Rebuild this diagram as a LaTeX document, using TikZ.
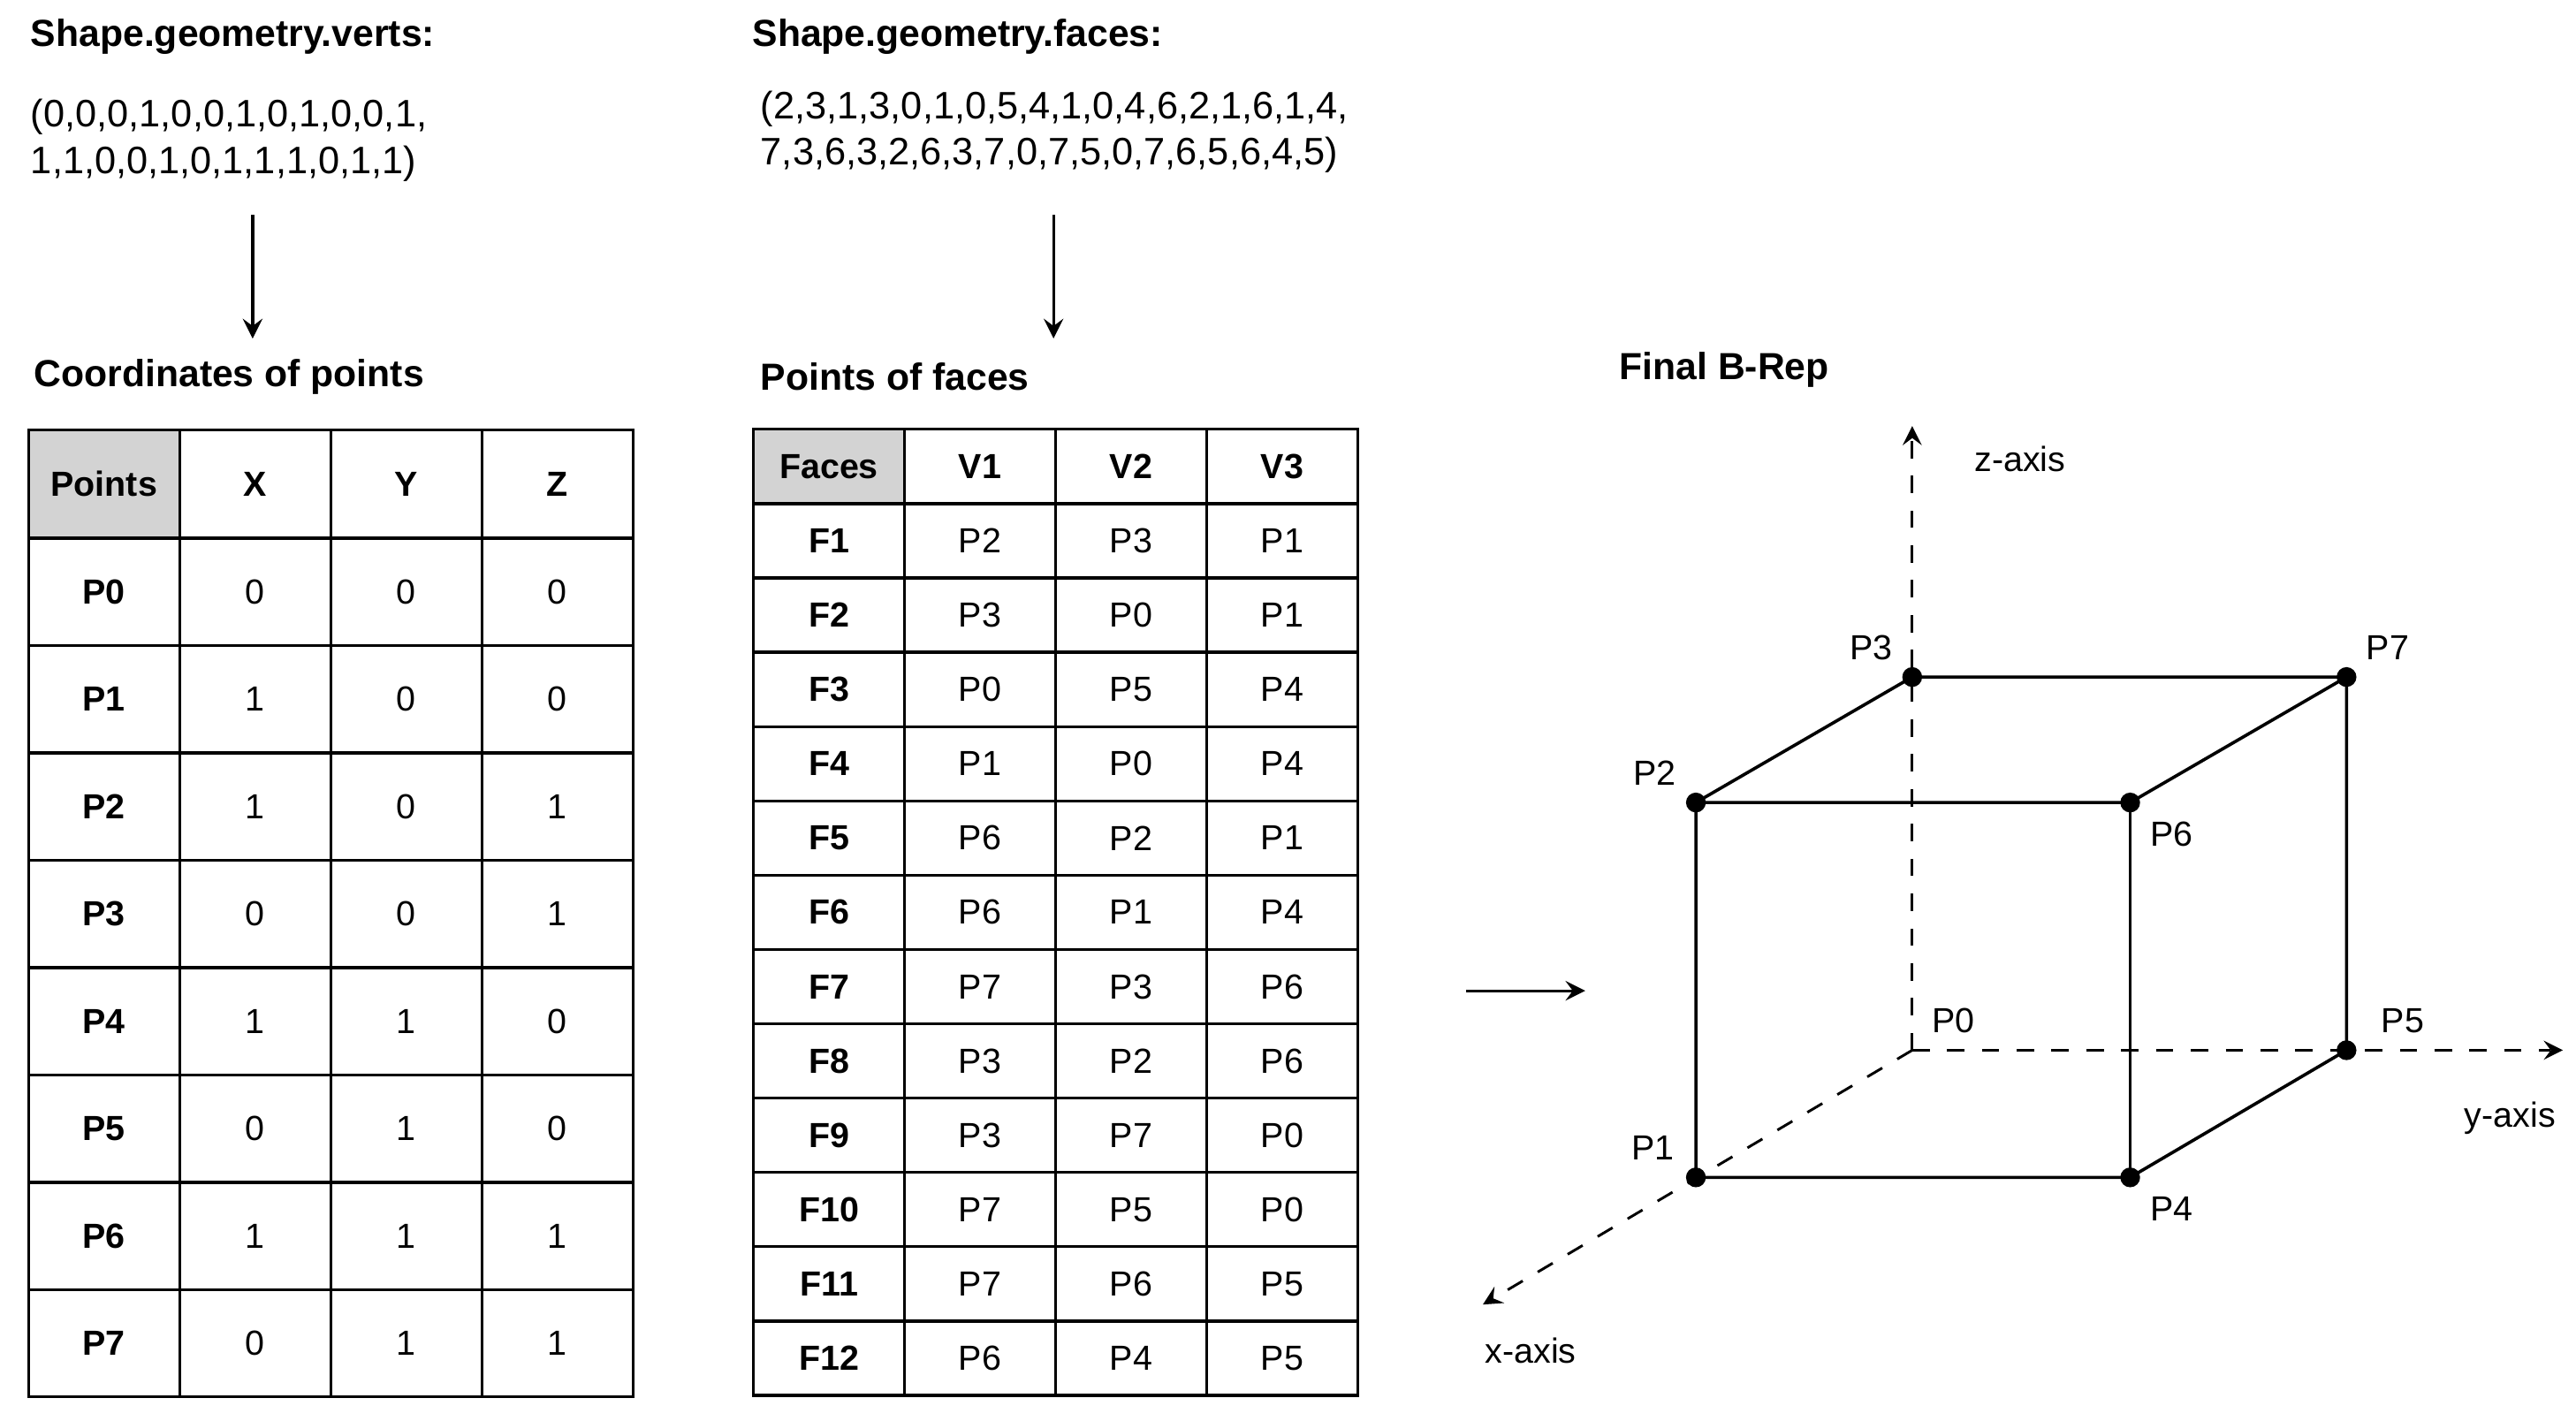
\documentclass[tikz,border=0pt]{standalone}
\usepackage{fontspec}
\setmainfont{Liberation Sans}
\usetikzlibrary{positioning}
\definecolor{headgray}{HTML}{D3D3D3}
\begin{document}
\begin{tikzpicture}[
        every node/.style={font=\fontsize{6.6}{8}\selectfont},
        title/.style={font=\fontsize{6.5}{8}\selectfont\bfseries, anchor=west, inner sep=0pt},
        data/.style={anchor=west, inner sep=0pt, align=left},
        cellA/.style={rectangle, draw, line width=0.5pt, minimum width=0.915cm, minimum height=0.65cm, inner sep=0pt, font=\fontsize{6}{7}\selectfont},
        cellB/.style={rectangle, draw, line width=0.5pt, minimum width=0.915cm, minimum height=0.45cm, inner sep=0pt, font=\fontsize{6}{7}\selectfont},
        line/.style={->, >=stealth, line width=0.5pt},
        axis/.style={->, >=stealth, dashed, line width=0.45pt},
        edge/.style={line width=0.55pt},
        pt/.style={circle, fill, inner sep=0pt, minimum size=0.12cm},
        ptlabel/.style={font=\fontsize{6}{7}\selectfont, inner sep=0pt}
    ]
        \useasboundingbox (0,0) rectangle (15.6,8.6);

        % Input data
        \node[title] (vertstitle) at (0.18,8.38) {Shape.geometry.verts:};
        \node[data] (verts) at (0.18,7.75) {(0,0,0,1,0,0,1,0,1,0,0,1,\\1,1,0,0,1,0,1,1,1,0,1,1)};
        \node[title] (facestitle) at (4.55,8.38) {Shape.geometry.faces:};
        \node[data] (faces) at (4.6,7.8) {(2,3,1,3,0,1,0,5,4,1,0,4,6,2,1,6,1,4,\\7,3,6,3,2,6,3,7,0,7,5,0,7,6,5,6,4,5)};

        % Table titles
        \node[title] (coordtitle) at (0.2,6.32) {Coordinates of points};
        \node[title] (facetitle) at (4.6,6.32) {Points of faces};
        \node[title] (breptitle) at (9.8,6.36) {Final B-Rep};

        \coordinate (a1s) at (1.53,7.3);  \coordinate (a1e) at (1.53,6.55);
        \coordinate (a2s) at (6.38,7.3);  \coordinate (a2e) at (6.38,6.55);
        \coordinate (a3s) at (8.88,2.6);  \coordinate (a3e) at (9.6,2.6);
        \draw[line] (a1s) -- (a1e);
        \draw[line] (a2s) -- (a2e);
        \draw[line] (a3s) -- (a3e);

        % Table of points
        \node[cellA, fill=headgray, font=\fontsize{6}{7}\selectfont\bfseries] (ph0) at (0.63,5.67) {Points};
        \node[cellA, font=\fontsize{6}{7}\selectfont\bfseries] (ph1) at (1.545,5.67) {X};
        \node[cellA, font=\fontsize{6}{7}\selectfont\bfseries] (ph2) at (2.46,5.67) {Y};
        \node[cellA, font=\fontsize{6}{7}\selectfont\bfseries] (ph3) at (3.375,5.67) {Z};
        \foreach \p/\x/\y/\z [count=\i from 0] in {P0/0/0/0, P1/1/0/0, P2/1/0/1, P3/0/0/1, P4/1/1/0, P5/0/1/0, P6/1/1/1, P7/0/1/1} {
            \node[cellA, font=\fontsize{6}{7}\selectfont\bfseries] (pn\i) at (0.63,5.015-0.65*\i) {\p};
            \node[cellA] (px\i) at (1.545,5.015-0.65*\i) {\x};
            \node[cellA] (py\i) at (2.46,5.015-0.65*\i) {\y};
            \node[cellA] (pz\i) at (3.375,5.015-0.65*\i) {\z};
        }

        % Table of faces
        \node[cellB, fill=headgray, font=\fontsize{6}{7}\selectfont\bfseries] (fh0) at (5.02,5.775) {Faces};
        \node[cellB, font=\fontsize{6}{7}\selectfont\bfseries] (fh1) at (5.935,5.775) {V1};
        \node[cellB, font=\fontsize{6}{7}\selectfont\bfseries] (fh2) at (6.85,5.775) {V2};
        \node[cellB, font=\fontsize{6}{7}\selectfont\bfseries] (fh3) at (7.765,5.775) {V3};
        \foreach \a/\b/\c [count=\i from 1] in {P2/P3/P1, P3/P0/P1, P0/P5/P4, P1/P0/P4, P6/P2/P1, P6/P1/P4, P7/P3/P6, P3/P2/P6, P3/P7/P0, P7/P5/P0, P7/P6/P5, P6/P4/P5} {
            \node[cellB, font=\fontsize{6}{7}\selectfont\bfseries] (fn\i) at (5.02,5.775-0.45*\i) {F\i};
            \node[cellB] (fa\i) at (5.935,5.775-0.45*\i) {\a};
            \node[cellB] (fb\i) at (6.85,5.775-0.45*\i) {\b};
            \node[cellB] (fc\i) at (7.765,5.775-0.45*\i) {\c};
        }

        % Cube
        \node[pt, fill=none] (p0) at (11.58,2.24) {};
        \node[pt] (p1) at (10.27,1.47) {};
        \node[pt] (p2) at (10.27,3.74) {};
        \node[pt] (p3) at (11.58,4.50) {};
        \node[pt] (p4) at (12.90,1.47) {};
        \node[pt] (p5) at (14.21,2.24) {};
        \node[pt] (p6) at (12.90,3.74) {};
        \node[pt] (p7) at (14.21,4.50) {};
        \coordinate (zend) at (11.58,6.02);
        \coordinate (yend) at (15.52,2.24);
        \coordinate (xend) at (8.98,0.70);
        \draw[axis] (p0.center) -- (zend);
        \draw[axis] (p0.center) -- (yend);
        \draw[axis] (p0.center) -- (xend);
        \draw[edge] (p1.center) -- (p2.center) -- (p3.center) -- (p7.center) -- (p5.center) -- (p4.center) -- (p1.center);
        \draw[edge] (p2.center) -- (p6.center) -- (p7.center);
        \draw[edge] (p6.center) -- (p4.center);

        \node[ptlabel, anchor=west] (zlab) at (11.95,5.82) {z-axis};
        \node[ptlabel] (ylab) at (15.2,1.83) {y-axis};
        \node[ptlabel] (xlab) at (9.27,0.42) {x-axis};
        \node[ptlabel] at (11.33,4.68) {P3};
        \node[ptlabel] at (14.46,4.68) {P7};
        \node[ptlabel] at (10.02,3.92) {P2};
        \node[ptlabel] at (13.15,3.55) {P6};
        \node[ptlabel] at (11.83,2.42) {P0};
        \node[ptlabel] at (14.55,2.42) {P5};
        \node[ptlabel] at (10.01,1.65) {P1};
        \node[ptlabel] at (13.15,1.28) {P4};
    \end{tikzpicture}
\end{document}
